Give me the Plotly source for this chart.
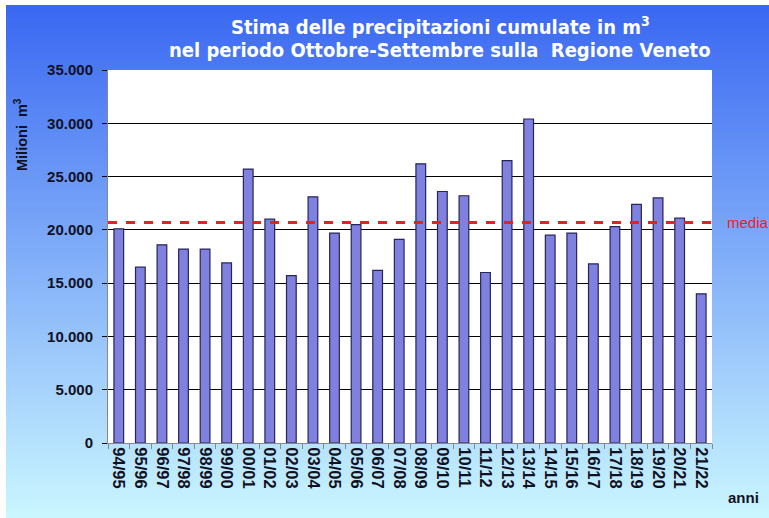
import plotly.graph_objects as go

anni = ["94/95", "95/96", "96/97", "97/98", "98/99", "99/00", "00/01", "01/02",
        "02/03", "03/04", "04/05", "05/06", "06/07", "07/08", "08/09", "09/10",
        "10/11", "11/12", "12/13", "13/14", "14/15", "15/16", "16/17", "17/18",
        "18/19", "19/20", "20/21", "21/22"]
precipitazioni = [20100, 16500, 18600, 18200, 18200, 16900, 25700, 21000,
                  15700, 23100, 19700, 20500, 16200, 19100, 26200, 23600,
                  23200, 16000, 26500, 30400, 19500, 19700, 16800, 20300,
                  22400, 23000, 21100, 14000]
media = 20700
y_ticks = [0, 5000, 10000, 15000, 20000, 25000, 30000, 35000]
y_tick_labels = ["0", "5.000", "10.000", "15.000", "20.000", "25.000", "30.000", "35.000"]

W, H = 769, 518
L, R, T, B = 108, 57, 70, 75
pw, ph = W - L - R, H - T - B

def px_x(p):
    return (p - L) / pw

def px_y(p):
    return (H - B - p) / ph

fig = go.Figure()
fig.add_trace(go.Bar(
    x=anni, y=precipitazioni, width=0.45,
    marker=dict(color="#8080de", line=dict(color="#26265a", width=1.2)),
    hoverinfo="x+y",
))

shapes = []
n = 120
top_px, bot_px = 5, H
c0 = (58, 104, 242)
c1 = (202, 246, 255)
for i in range(n):
    f = i / (n - 1)
    c = tuple(int(round(c0[k] + (c1[k] - c0[k]) * f)) for k in range(3))
    y0p = top_px + (bot_px - top_px) * i / n
    y1p = top_px + (bot_px - top_px) * (i + 1) / n + 1
    shapes.append(dict(type="rect", xref="paper", yref="paper",
                       x0=px_x(6), x1=px_x(W + 2), y0=px_y(min(y1p, H)), y1=px_y(y0p),
                       fillcolor="rgb(%d,%d,%d)" % c, line=dict(width=0), layer="below"))
shapes.append(dict(type="rect", xref="paper", yref="paper", x0=0, x1=1, y0=0, y1=1,
                   fillcolor="white", line=dict(width=0), layer="below"))
shapes.append(dict(type="line", xref="paper", yref="y", x0=0, x1=1, y0=media, y1=media,
                   line=dict(color="#ee1c24", width=3, dash="dash"), layer="above"))

font_main = "Liberation Sans, Arial, sans-serif"
font_title = "DejaVu Sans Condensed, Liberation Sans Narrow, Arial Narrow, sans-serif"

fig.update_layout(
    width=W, height=H,
    margin=dict(l=L, r=R, t=T, b=B, pad=0),
    paper_bgcolor="white",
    plot_bgcolor="rgba(0,0,0,0)",
    showlegend=False,
    bargap=0.5,
    shapes=shapes,
    xaxis=dict(
        type="category",
        tickangle=90,
        tickfont=dict(family=font_main, size=16.5, color="#111122", weight="bold"),
        showgrid=False,
        showline=True, linecolor="#888888", linewidth=1,
        ticks="outside", ticklen=5, tickcolor="#888888",
        tickson="boundaries",
    ),
    yaxis=dict(
        range=[0, 35000],
        tickvals=y_ticks, ticktext=y_tick_labels,
        tickfont=dict(family=font_main, size=15, color="#111122", weight="bold"),
        ticklabelstandoff=6,
        showgrid=True, gridcolor="#000000", gridwidth=1,
        zeroline=False,
        showline=True, linecolor="#888888", linewidth=1,
        ticks="outside", ticklen=5, tickcolor="#000000",
    ),
    annotations=[
        dict(text="<b>Stima delle precipitazioni cumulate in m<sup>3</sup></b>",
             xref="paper", yref="paper", x=px_x(440), y=px_y(26),
             xanchor="center", yanchor="middle", showarrow=False,
             font=dict(family=font_title, size=20, color="white")),
        dict(text="<b>nel periodo Ottobre-Settembre sulla  Regione Veneto</b>",
             xref="paper", yref="paper", x=px_x(440), y=px_y(50),
             xanchor="center", yanchor="middle", showarrow=False,
             font=dict(family=font_title, size=20, color="white")),
        dict(text="<b>Milioni  m<sup>3</sup></b>", xref="paper", yref="paper",
             x=px_x(21), y=px_y(135), textangle=-90,
             xanchor="center", yanchor="middle", showarrow=False,
             font=dict(family=font_main, size=14.5, color="#111122")),
        dict(text="media", xref="paper", yref="y", x=px_x(725), y=media,
             xanchor="left", yanchor="middle", showarrow=False,
             font=dict(family=font_main, size=15, color="#ee1c24")),
        dict(text="<b>anni</b>", xref="paper", yref="paper", x=px_x(726), y=px_y(497),
             xanchor="left", yanchor="middle", showarrow=False,
             font=dict(family=font_main, size=15, color="#111122")),
    ],
)

fig.write_html("out.html", config={"displayModeBar": False},
               post_script="document.body.style.margin='0';")
